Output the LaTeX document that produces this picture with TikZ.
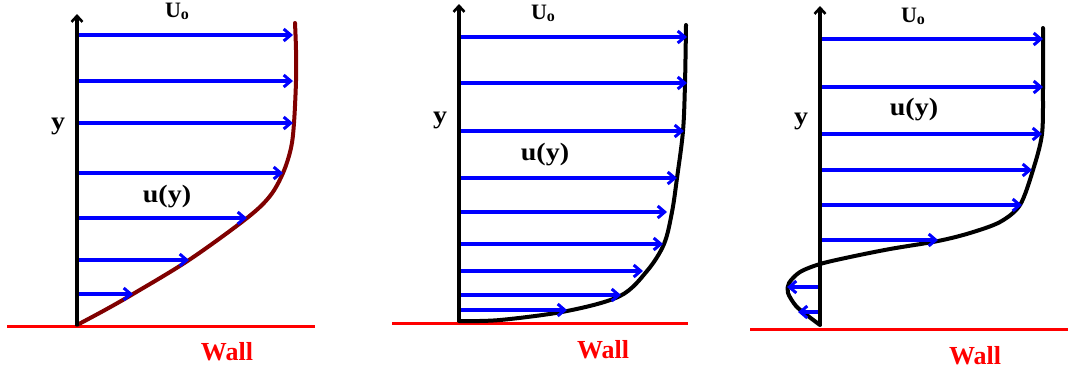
\documentclass[tikz,border=0pt]{standalone}
\usepackage{fontspec}
\setmainfont{Liberation Serif}
\newfontfamily\widefont[FakeStretch=1.12]{Liberation Serif}
\usetikzlibrary{arrows.meta}
\definecolor{flowblue}{RGB}{0,0,255}
\definecolor{wallred}{RGB}{255,0,0}
\definecolor{curvered}{RGB}{128,0,0}
\tikzset{
  vel/.style={draw=flowblue, line width=3.2pt, -{Straight Barb[length=7pt,width=12pt,line width=3pt]}},
  axisline/.style={draw=black, line width=3.8pt, -{Straight Barb[length=6pt,width=11pt,line width=2.6pt]}},
  wallline/.style={draw=wallred, line width=3pt},
  profile/.style={line width=4pt, line cap=round, line join=round},
  lbl/.style={font=\widefont\bfseries\fontsize{25}{25}\selectfont, inner sep=0pt},
  ulbl/.style={font=\bfseries\fontsize{22}{22}\selectfont, inner sep=0pt},
  walllbl/.style={font=\bfseries\fontsize{26}{26}\selectfont, text=wallred, inner sep=0pt},
}
\newcommand{\Uo}{U\raisebox{-2pt}{\fontsize{16}{16}\selectfont o}}
\begin{document}
\begin{tikzpicture}[x=1pt,y=-1pt]
\useasboundingbox (0,0) rectangle (1070,373);
% ---------- Panel 1 ----------
\draw[wallline] (7,326) -- (315,326);
\draw[profile, curvered] plot[smooth, tension=0.55] coordinates {(77,325) (105,310) (133,294) (189,260) (247,218) (270,196) (283,173) (291,148) (294,123) (296,81) (296,50) (295,23)};
\foreach \yy/\xx in {35/293,81/293,123/293,173/283,218/247,260/189,294/133}
  \draw[vel] (77,\yy) -- (\xx,\yy);
\draw[axisline] (77,326) -- (77,14);
\node[ulbl] (u1) at (177,11) {\Uo};
\node[lbl] (y1) at (58,126) {y};
\node[lbl] (uy1) at (167,197) {u(y)};
\node[walllbl] (w1) at (227,352) {Wall};
% ---------- Panel 2 ----------
\draw[wallline] (392,323) -- (688,323);
\draw[profile, black] plot[smooth, tension=0.55] coordinates {(459,321) (500,320) (567,311) (620,296) (647,271) (664,244) (672,212) (677,178) (683,131) (685,83) (686,25)};
\foreach \yy/\xx in {37/687,83/687,131/684,178/677,212/667,244/663,271/643,295/621,310/567}
  \draw[vel] (459,\yy) -- (\xx,\yy);
\draw[axisline] (459,322) -- (459,4);
\node[ulbl] (u2) at (543,13) {\Uo};
\node[lbl] (y2) at (440,120) {y};
\node[lbl] (uy2) at (545,155) {u(y)};
\node[walllbl] (w2) at (603,350) {Wall};
% ---------- Panel 3 ----------
\draw[wallline] (750,329) -- (1068,329);
\draw[profile, black] plot[smooth, tension=0.5] coordinates {(1043,28) (1043,87) (1042,134) (1033,170) (1020,205) (1000,222) (970,233) (938,241) (890,249) (850,257) (820,264) (800,272) (789,283) (788,293) (796,306) (808,316) (820,325)};
\foreach \yy/\xx in {39/1043,87/1043,134/1042,170/1032,205/1022,240/938}
  \draw[vel] (820,\yy) -- (\xx,\yy);
\draw[vel] (820,287) -- (787,287);
\draw[vel] (820,312) -- (798,312);
\draw[axisline] (820,326) -- (820,6);
\node[ulbl] (u3) at (913,16) {\Uo};
\node[lbl] (y3) at (801,121) {y};
\node[lbl] (uy3) at (914,110) {u(y)};
\node[walllbl] (w3) at (975,356) {Wall};
\end{tikzpicture}
\end{document}
